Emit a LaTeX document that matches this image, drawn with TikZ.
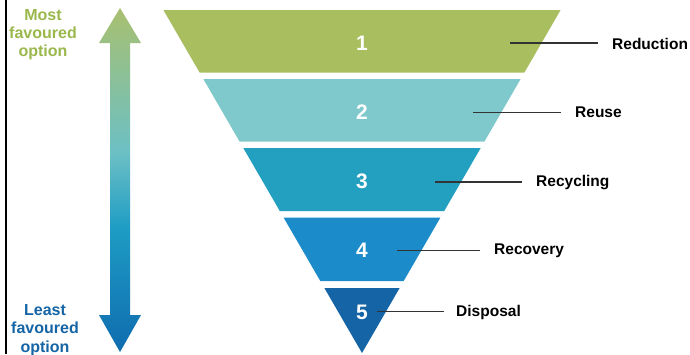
\documentclass[tikz,border=0pt]{standalone}
\usepackage{fontspec}
\setmainfont{Liberation Sans}
\usetikzlibrary{calc}
\definecolor{lay1}{HTML}{A9BE5F}
\definecolor{lay2}{HTML}{7FC9CD}
\definecolor{lay3}{HTML}{23A0C0}
\definecolor{lay4}{HTML}{1B8BC9}
\definecolor{lay5}{HTML}{1565A6}
\definecolor{topgreen}{HTML}{A8C070}
\definecolor{midteal}{HTML}{6CC0C4}
\definecolor{lowteal}{HTML}{1E9CC4}
\definecolor{botblue}{HTML}{0F6CAF}
\definecolor{lnk}{HTML}{333333}
\definecolor{greentxt}{HTML}{9AB84C}
\pgfdeclareverticalshading{arrowshade}{100bp}{color(0bp)=(botblue); color(25bp)=(botblue); color(43bp)=(lowteal); color(54bp)=(midteal); color(75bp)=(topgreen); color(100bp)=(topgreen)}
\tikzset{
  num/.style={font=\bfseries\fontsize{21}{21}\selectfont, text=white, inner sep=0pt},
  lbl/.style={font=\bfseries\fontsize{15.5}{15.5}\selectfont, text=black, anchor=west, inner sep=0pt},
  link/.style={draw=lnk, line width=1.6pt, shorten >=14pt},
  sidetxt/.style={font=\bfseries\fontsize{16}{16}\selectfont, anchor=base, inner sep=0pt},
}
\begin{document}
\begin{tikzpicture}[x=1pt,y=-1pt]
\useasboundingbox (0,0) rectangle (690,354);
\fill[white] (0,0) rectangle (690,354);
% left border
\fill[black] (5,0) rectangle (7.2,354);
% layers (half width = 0.579*(353-y))
\def\hw#1{0.579*(353-#1)}
\fill[lay1] ({362-\hw{10}},10) -- ({362+\hw{10}},10) -- ({362+\hw{72.5}},72.5) -- ({362-\hw{72.5}},72.5) -- cycle;
\fill[lay2] ({362-\hw{79}},79) -- ({362+\hw{79}},79) -- ({362+\hw{141.5}},141.5) -- ({362-\hw{141.5}},141.5) -- cycle;
\fill[lay3] ({362-\hw{148}},148) -- ({362+\hw{148}},148) -- ({362+\hw{211}},211) -- ({362-\hw{211}},211) -- cycle;
\fill[lay4] ({362-\hw{217.5}},217.5) -- ({362+\hw{217.5}},217.5) -- ({362+\hw{281}},281) -- ({362-\hw{281}},281) -- cycle;
\fill[lay5] ({362-\hw{288}},288) -- ({362+\hw{288}},288) -- (362,353) -- cycle;
% numbers
\node[num] (n1) at (362,43) {1};
\node[num] (n2) at (362,112) {2};
\node[num] (n3) at (362,181) {3};
\node[num] (n4) at (362,250) {4};
\node[num] (n5) at (362,312) {5};
% labels
\node[lbl] (l1) at (612,44) {Reduction};
\node[lbl] (l2) at (575,112) {Reuse};
\node[lbl] (l3) at (536,183) {Recycling};
\node[lbl] (l4) at (494,251) {Recovery};
\node[lbl] (l5) at (456,312) {Disposal};
\coordinate (c1) at (510,43);
\coordinate (c2) at (473,112.5);
\coordinate (c3) at (435,182);
\coordinate (c4) at (397,250.5);
\coordinate (c5) at (377,311.5);
\draw[link] (c1) -- (c1 -| l1.west);
\draw[link] (c2) -- (c2 -| l2.west);
\draw[link] (c3) -- (c3 -| l3.west);
\draw[link] (c4) -- (c4 -| l4.west);
\draw[link, shorten >=12pt] (c5) -- (c5 -| l5.west);
% double arrow with gradient
\shade[shading=arrowshade]
  (120,8) -- (141,43) -- (130,43) -- (130,315) -- (141,315) -- (120,352)
  -- (99,315) -- (110,315) -- (110,43) -- (99,43) -- cycle;
% side texts
\node[sidetxt, text=greentxt] (m1) at (43,20) {Most};
\node[sidetxt, text=greentxt] (m2) at (43,38) {favoured};
\node[sidetxt, text=greentxt] (m3) at (43,56) {option};
\node[sidetxt, text=lay5] (b1) at (45,315) {Least};
\node[sidetxt, text=lay5] (b2) at (45,333.5) {favoured};
\node[sidetxt, text=lay5] (b3) at (45,352) {option};
\end{tikzpicture}
\end{document}
